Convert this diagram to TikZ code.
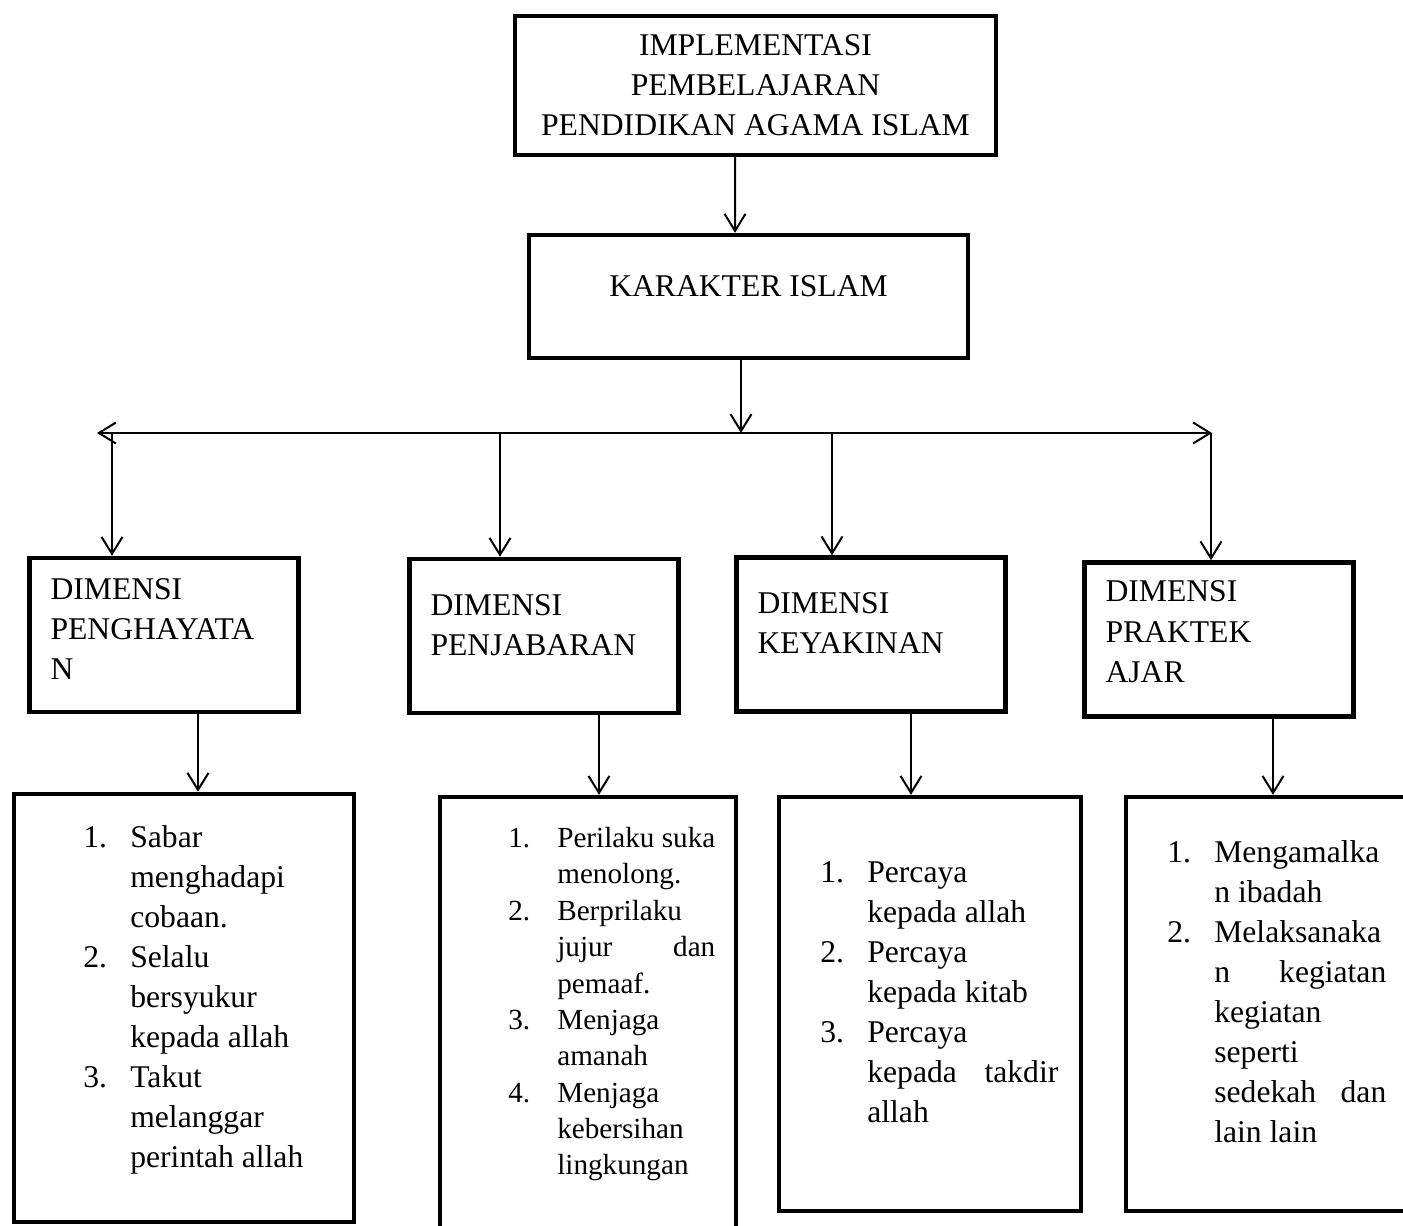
\documentclass[tikz,border=0pt]{standalone}
\usepackage{fontspec}
\setmainfont{Liberation Serif}
\usetikzlibrary{arrows.meta}
\tikzset{
  >={Straight Barb[length=0.34cm,width=0.42cm]},
  box/.style={draw, line width=0.09cm, font=\fontsize{18}{22.8}\selectfont},
  dimbox/.style={box, text width=4.54cm, inner xsep=0.42cm, minimum height=3.08cm, align=left},
  listbox/.style={box, minimum width=6cm, minimum height=8.3cm},
  items/.style={font=\fontsize{18}{22.8}\selectfont, inner sep=0pt, anchor=west},
  conn/.style={line width=0.04cm, ->}
}

\begin{document}
\begin{tikzpicture}[x=0.02cm,y=-0.02cm]
  \useasboundingbox (0,0) rectangle (1403,1226);

  \node[box, minimum width=9.62cm, minimum height=2.78cm, align=center] (top) at (755.5,85.5)
    {IMPLEMENTASI\\PEMBELAJARAN\\PENDIDIKAN AGAMA ISLAM};
  \node[box, minimum width=8.78cm, minimum height=2.46cm, text depth=0.4cm] (kar) at (748.5,296.5)
    {KARAKTER ISLAM};

  \node[dimbox, text depth=1.85cm] (d1) at (164,635) {DIMENSI\\PENGHAYATA\\N};
  \node[dimbox, text depth=1.25cm] (d2) at (544,636) {DIMENSI\\PENJABARAN};
  \node[dimbox, text depth=1.25cm] (d3) at (871,634.5) {DIMENSI\\KEYAKINAN};
  \node[dimbox, text depth=1.92cm] (d4) at (1219,639.5) {DIMENSI\\PRAKTEK\\AJAR};

  \node[listbox, minimum width=6.8cm, minimum height=8.56cm] (l1) at (184,1008) {};
  \node[listbox, minimum width=5.92cm, minimum height=8.7cm] (l2) at (588,1014.5) {};
  \node[listbox, minimum width=6.04cm, minimum height=8.28cm] (l3) at (930,1004) {};
  \node[listbox, minimum width=5.88cm, minimum height=8.28cm] (l4) at (1273,1004) {};

  \node[items] (t1) at (83,999.5) {\begin{tabular}{@{}p{0.94cm}@{}l@{}}
    1. & Sabar\\ & menghadapi\\ & cobaan.\\
    2. & Selalu\\ & bersyukur\\ & kepada allah\\
    3. & Takut\\ & melanggar\\ & perintah allah
  \end{tabular}};
  \node[items, font=\fontsize{16.6}{20.7}\selectfont] (t2) at (508,1004) {\begin{tabular}{@{}p{0.98cm}@{}l@{}}
    1. & Perilaku suka\\ & menolong.\\
    2. & Berprilaku\\ & \makebox[3.16cm][s]{jujur dan}\\ & pemaaf.\\
    3. & Menjaga\\ & amanah\\
    4. & Menjaga\\ & kebersihan\\ & lingkungan
  \end{tabular}};
  \node[items] (t3) at (820,994.5) {\begin{tabular}{@{}p{0.94cm}@{}l@{}}
    1. & Percaya\\ & kepada allah\\
    2. & Percaya\\ & kepada kitab\\
    3. & Percaya\\ & \makebox[3.82cm][s]{kepada takdir}\\ & allah
  \end{tabular}};
  \node[items] (t4) at (1167,994.5) {\begin{tabular}{@{}p{0.94cm}@{}l@{}}
    1. & Mengamalka\\ & n ibadah\\
    2. & Melaksanaka\\ & \makebox[3.44cm][s]{n kegiatan}\\ & kegiatan\\ & seperti\\
       & \makebox[3.44cm][s]{sedekah dan}\\ & lain lain
  \end{tabular}};

  % arrows between the top boxes
  \draw[conn] ([xshift=-0.41cm]top.south) -- ([xshift=-0.27cm]kar.north);
  \coordinate (busL) at (97,433);
  \coordinate (busR) at (1212,433);
  \coordinate (k) at ([xshift=-0.15cm]kar.south);
  \draw[conn] (k) -- (k |- busL);
  \draw[conn, <->] (busL) -- (busR);

  \foreach \x/\n in {112/d1, 500/d2, 832/d3, 1211/d4}{
    \coordinate (p) at (\x,433);
    \draw[conn] (p) -- (p |- \n.north);
  }
  \foreach \x/\a/\b in {198/d1/l1, 599/d2/l2, 911/d3/l3, 1273/d4/l4}{
    \coordinate (q) at (\x,0);
    \draw[conn] (\a.south -| q) -- (\b.north -| q);
  }
\end{tikzpicture}
\end{document}
